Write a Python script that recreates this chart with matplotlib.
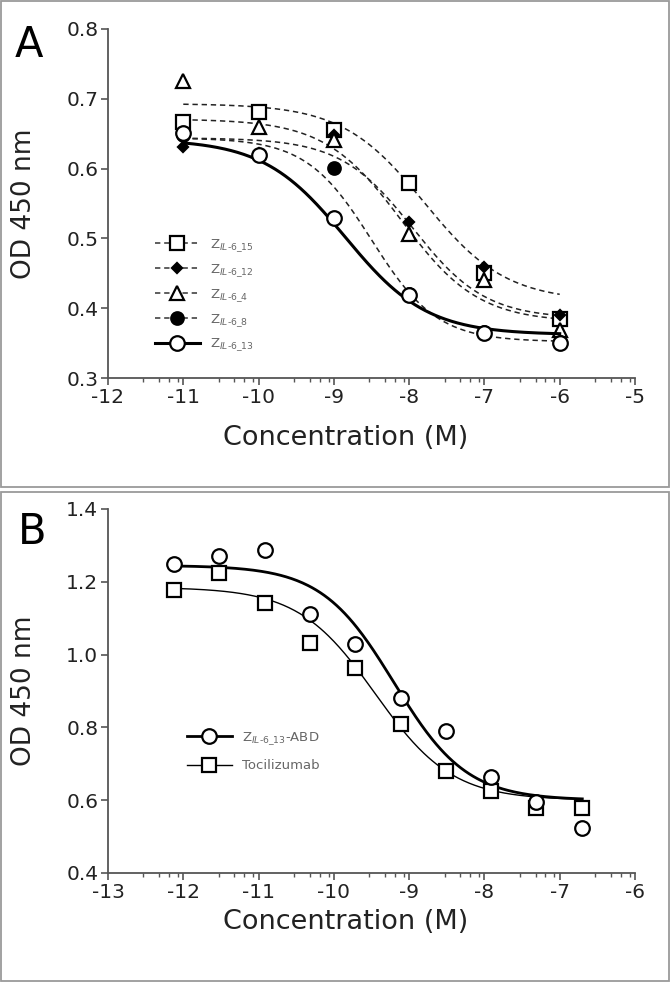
import numpy as np
import matplotlib
matplotlib.use('Agg')
import matplotlib.pyplot as plt
from matplotlib.patches import Rectangle
from matplotlib.lines import Line2D

plt.rcParams['font.family'] = 'DejaVu Sans'
plt.rcParams['mathtext.fontset'] = 'dejavusans'
plt.rcParams['axes.unicode_minus'] = False

# ---- panel A data (log concentration, OD 450 nm)
conc_a = [-11, -10, -9, -8, -7, -6]
z15 = [0.667, 0.681, 0.655, 0.580, 0.450, 0.385]
z12 = [0.631, 0.622, 0.648, 0.524, 0.459, 0.390]
z4 = [0.725, 0.660, 0.641, 0.507, 0.440, 0.369]
z8 = [0.648, 0.620, 0.601, 0.420, 0.366, 0.352]
z13 = [0.651, 0.619, 0.529, 0.419, 0.365, 0.350]

# fitted 4PL parameters: top, bottom, logEC50, hill
fit_z15 = [0.693, 0.410, -7.80, 0.80]
fit_z12 = [0.644, 0.385, -7.95, 0.90]
fit_z4 = [0.671, 0.380, -8.10, 0.85]
fit_z8 = [0.644, 0.352, -8.50, 1.00]
fit_z13 = [0.642, 0.362, -8.85, 0.80]

# ---- panel B data
conc_b = [-12.12, -11.52, -10.92, -10.32, -9.72, -9.11, -8.51, -7.91, -7.31, -6.70]
abd = [1.248, 1.271, 1.287, 1.112, 1.028, 0.880, 0.791, 0.664, 0.595, 0.524]
toci = [1.178, 1.225, 1.143, 1.031, 0.962, 0.809, 0.681, 0.625, 0.578, 0.579]
fit_abd = [1.245, 0.600, -9.20, 0.90]
fit_toci = [1.185, 0.600, -9.45, 0.85]


def fourpl(x, p):
    top, bottom, c, h = p
    return bottom + (top - bottom) / (1 + 10 ** (h * (x - c)))


fig = plt.figure(figsize=(6.7, 9.82), dpi=100)
W, H = 670, 982

ax_a = fig.add_axes([108 / W, 1 - 378 / H, 527 / W, 349 / H])
ax_b = fig.add_axes([108 / W, 1 - 873 / H, 527 / W, 364 / H])

dash = (0, (3.5, 2.5))
grey = '#555555'

# panel A
xa = np.linspace(-11, -6, 300)
series_a = [
    (z15, fit_z15, 's', 'white', 10, r'Z$_{IL\text{-}6\_15}$'),
    (z12, fit_z12, 'D', 'black', 5.5, r'Z$_{IL\text{-}6\_12}$'),
    (z4, fit_z4, '^', 'white', 9.5, r'Z$_{IL\text{-}6\_4}$'),
    (z8, fit_z8, 'o', 'black', 9, r'Z$_{IL\text{-}6\_8}$'),
]
handles = []
for i, (vals, fit, mk, fc, ms, lab) in enumerate(series_a):
    ax_a.plot(xa, fourpl(xa, fit), color='#222222', lw=1.1, ls=dash, zorder=2)
    ax_a.plot(conc_a, vals, ls='none', marker=mk, ms=ms, mfc=fc, mec='black',
              mew=1.6, zorder=3 + i)
    handles.append(Line2D([], [], color='#333333', lw=1.1, ls=dash, marker=mk,
                          ms=ms, mfc=fc, mec='black', mew=1.6, label=lab))
ax_a.plot(xa, fourpl(xa, fit_z13), color='black', lw=2.2, zorder=8)
ax_a.plot(conc_a, z13, ls='none', marker='o', ms=10.5, mfc='white', mec='black',
          mew=1.6, zorder=9)
handles.append(Line2D([], [], color='black', lw=2.2, marker='o', ms=10.5,
                      mfc='white', mec='black', mew=1.6, label=r'Z$_{IL\text{-}6\_13}$'))

leg_a = ax_a.legend(handles=handles, loc='upper left', frameon=False,
                    bbox_to_anchor=(155 / W, 1 - 237 / H), bbox_transform=fig.transFigure,
                    fontsize=9.5, handlelength=3.4, handletextpad=0.8,
                    labelspacing=0.62, borderpad=0, borderaxespad=0)
for t in leg_a.get_texts():
    t.set_color('#666666')

ax_a.set_xlim(-12, -5)
ax_a.set_ylim(0.3, 0.8)
ax_a.set_yticks([0.3, 0.4, 0.5, 0.6, 0.7, 0.8])
ax_a.set_xticks(range(-12, -4))

# panel B
xb = np.linspace(conc_b[0], conc_b[-1], 300)
ax_b.plot(xb, fourpl(xb, fit_abd), color='black', lw=2.0, zorder=2)
ax_b.plot(xb, fourpl(xb, fit_toci), color='black', lw=1.0, zorder=2)
ax_b.plot(conc_b, toci, ls='none', marker='s', ms=10, mfc='white', mec='black',
          mew=1.6, zorder=3)
ax_b.plot(conc_b, abd, ls='none', marker='o', ms=10.5, mfc='white', mec='black',
          mew=1.6, zorder=4)
hb = [Line2D([], [], color='black', lw=2.0, marker='o', ms=10.5, mfc='white',
             mec='black', mew=1.6, label=r'Z$_{IL\text{-}6\_13}$-ABD'),
      Line2D([], [], color='black', lw=1.0, marker='s', ms=10, mfc='white',
             mec='black', mew=1.6, label='Tocilizumab')]
leg_b = ax_b.legend(handles=hb, loc='upper left', frameon=False,
                    bbox_to_anchor=(187 / W, 1 - 730 / H), bbox_transform=fig.transFigure,
                    fontsize=9.5, handlelength=3.4, handletextpad=0.8,
                    labelspacing=0.95, borderpad=0, borderaxespad=0)
for t in leg_b.get_texts():
    t.set_color('#666666')

ax_b.set_xlim(-13, -6)
ax_b.set_ylim(0.4, 1.4)
ax_b.set_yticks([0.4, 0.6, 0.8, 1.0, 1.2, 1.4])
ax_b.set_yticklabels(['0.4', '0.6', '0.8', '1.0', '1.2', '1.4'])
ax_b.set_xticks(range(-13, -5))

# common axis styling
minor_frac = [0.47, 0.68, 0.81, 0.93]
for ax, lo, hi, xlab_y in [(ax_a, -12, -5, -0.135), (ax_b, -13, -6, -0.1)]:
    for s in ['top', 'right']:
        ax.spines[s].set_visible(False)
    for s in ['left', 'bottom']:
        ax.spines[s].set_color(grey)
        ax.spines[s].set_linewidth(1.3)
    ax.set_xticks([d + f for d in range(lo, hi) for f in minor_frac], minor=True)
    ax.tick_params(axis='both', which='major', length=5, width=1.2, color=grey,
                   labelsize=14.5, labelcolor='#222222', pad=2)
    ax.tick_params(axis='x', which='minor', length=3, width=1.0, color=grey)
    ax.set_ylabel('OD 450 nm', fontsize=19, color='#222222')
    ax.yaxis.set_label_coords(-0.135, 0.5)
    ax.set_xlabel('Concentration (M)', fontsize=19.5, color='#222222')
    ax.xaxis.set_label_coords(0.45, xlab_y)

fig.text(15 / W, 1 - 24 / H, 'A', fontsize=30, va='top', ha='left')
fig.text(18 / W, 1 - 511 / H, 'B', fontsize=30, va='top', ha='left')

# panel borders
for y0, y1 in [(1, 487), (492, 981)]:
    fig.add_artist(Rectangle((1 / W, 1 - y1 / H), 668 / W, (y1 - y0) / H,
                             transform=fig.transFigure, fill=False,
                             ec='#9a9a9a', lw=1.3))

fig.savefig('out.png', dpi=100)
